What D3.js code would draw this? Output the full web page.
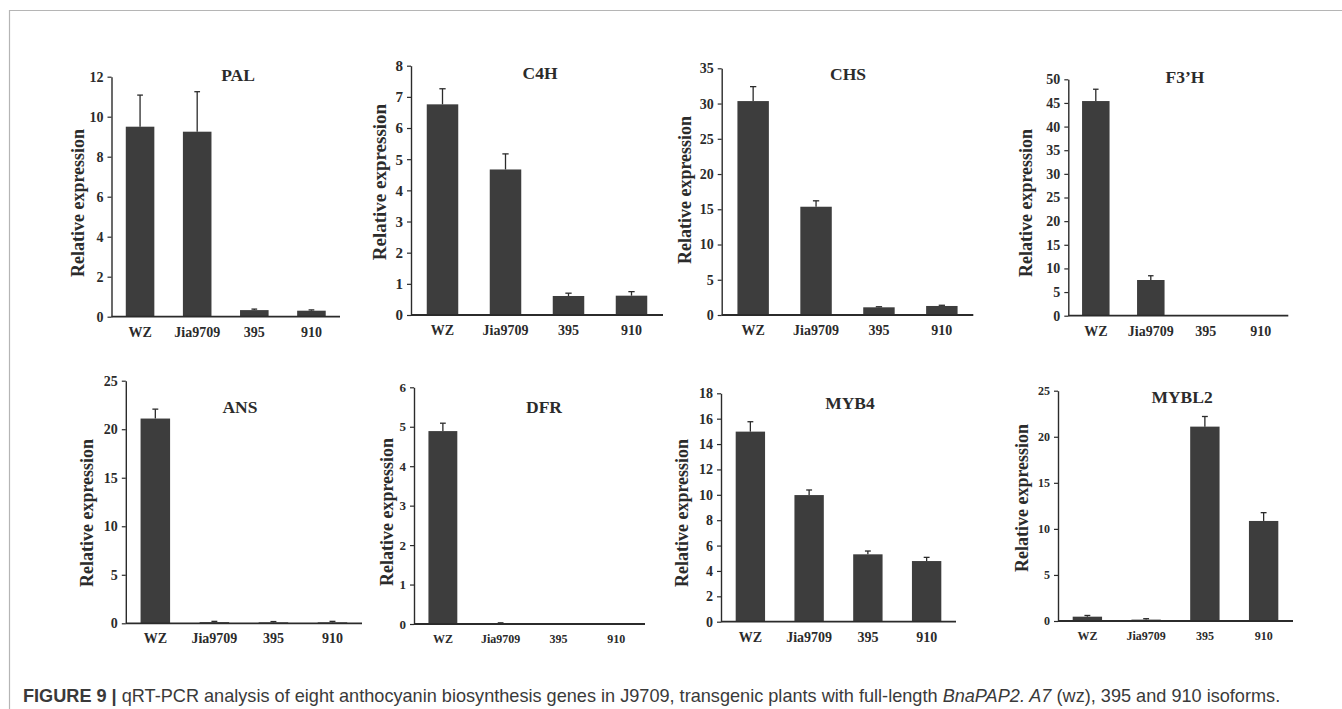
<!DOCTYPE html>
<html>
<head>
<meta charset="utf-8">
<script src="https://cdn.jsdelivr.net/npm/d3@7"></script>
<style>
  html, body { margin: 0; padding: 0; background: #fff; }
  svg { display: block; }
</style>
</head>
<body>
<svg id="chart" width="1342" height="709"></svg>
<script>
// ---------- data ----------
const categories = ["WZ", "Jia9709", "395", "910"];
const genes = ["PAL", "C4H", "CHS", "F3\u2019H", "ANS", "DFR", "MYB4", "MYBL2"];

const palValues   = [9.5, 9.25, 0.33, 0.30];
const palErrors   = [1.58, 2.0, 0.05, 0.04];
const c4hValues   = [6.76, 4.67, 0.61, 0.62];
const c4hErrors   = [0.50, 0.50, 0.09, 0.13];
const chsValues   = [30.35, 15.36, 1.09, 1.28];
const chsErrors   = [2.05, 0.84, 0.08, 0.10];
const f3hValues   = [45.4, 7.55, 0, 0];
const f3hErrors   = [2.5, 0.9, 0, 0];
const ansValues   = [21.1, 0.12, 0.10, 0.10];
const ansErrors   = [0.97, 0.08, 0.08, 0.10];
const dfrValues   = [4.89, 0.02, 0, 0];
const dfrErrors   = [0.20, 0.01, 0, 0];
const myb4Values  = [14.98, 9.98, 5.31, 4.78];
const myb4Errors  = [0.78, 0.40, 0.26, 0.29];
const mybl2Values = [0.47, 0.15, 21.1, 10.86];
const mybl2Errors = [0.13, 0.10, 1.10, 0.90];

const yMaxima = [12, 8, 35, 50, 25, 6, 18, 25];
const yTickSteps = [2, 1, 5, 5, 5, 1, 2, 5];

const yAxisTitle = "Relative expression";
const captionPieces = [
  {text: "FIGURE 9 |", weight: "bold", style: "normal"},
  {text: "qRT-PCR analysis of eight anthocyanin biosynthesis genes in J9709, transgenic plants with full-length", weight: "normal", style: "normal"},
  {text: "BnaPAP2. A7", weight: "normal", style: "italic"},
  {text: "(wz), 395 and 910 isoforms.", weight: "normal", style: "normal"}
];

const valueSets = [palValues, c4hValues, chsValues, f3hValues, ansValues, dfrValues, myb4Values, mybl2Values];
const errorSets = [palErrors, c4hErrors, chsErrors, f3hErrors, ansErrors, dfrErrors, myb4Errors, mybl2Errors];

// ---------- layout (pixel geometry per panel) ----------
const layout = [
  {x0: 111.5, x1: 340,   yTop: 76.7, y0: 316.7, tx: 238,  ty: 75,  lx: 78,    ly: 203, lfs: 18, xfs: 14, tfs: 14},
  {x0: 411,   x1: 663,   yTop: 65.7, y0: 315,   tx: 540,  ty: 73,  lx: 379,   ly: 182, lfs: 19, xfs: 14, tfs: 15},
  {x0: 721.7, x1: 973.3, yTop: 68.3, y0: 315,   tx: 848,  ty: 74,  lx: 685,   ly: 190, lfs: 18, xfs: 14, tfs: 14},
  {x0: 1068.3,x1: 1288.3,yTop: 79.3, y0: 315.7, tx: 1185, ty: 77,  lx: 1025.7,ly: 203, lfs: 18, xfs: 14, tfs: 14},
  {x0: 125.8, x1: 362,   yTop: 380.7,y0: 623.3, tx: 240,  ty: 407, lx: 86.7,  ly: 513, lfs: 18, xfs: 14, tfs: 14},
  {x0: 414,   x1: 645,   yTop: 387.3,y0: 624,   tx: 544,  ty: 407, lx: 387,   ly: 512, lfs: 18, xfs: 12, tfs: 13},
  {x0: 721,   x1: 956,   yTop: 393.3,y0: 621.7, tx: 850,  ty: 403, lx: 681.7, ly: 513, lfs: 18, xfs: 14, tfs: 14},
  {x0: 1058,  x1: 1293,  yTop: 390.7,y0: 621,   tx: 1182, ty: 397, lx: 1021.7,ly: 498, lfs: 18, xfs: 12, tfs: 12}
];

const svg = d3.select("#chart");
const serif = "'Liberation Serif', 'Times New Roman', serif";
const barColor = "#3d3d3d";
const inkColor = "#2b2b2b";

// frame lines
svg.append("line").attr("x1", 9).attr("x2", 1342).attr("y1", 10.5).attr("y2", 10.5)
  .attr("stroke", "#b5b5b5").attr("stroke-width", 1.2);
svg.append("line").attr("x1", 9.5).attr("x2", 9.5).attr("y1", 10).attr("y2", 709)
  .attr("stroke", "#b5b5b5").attr("stroke-width", 1.2);

genes.forEach((gene, i) => {
  const L = layout[i];
  const values = valueSets[i];
  const errors = errorSets[i];
  const data = categories.map((c, k) => ({cat: c, v: values[k], e: errors[k]}));

  const x = d3.scaleBand().domain(categories).range([L.x0, L.x1])
    .paddingInner(0.5).paddingOuter(0.25);
  const y = d3.scaleLinear().domain([0, yMaxima[i]]).range([L.y0, L.yTop]);

  const g = svg.append("g");

  // bars
  g.selectAll("rect.bar").data(data).enter().append("rect")
    .attr("class", "bar")
    .attr("x", d => x(d.cat))
    .attr("width", x.bandwidth())
    .attr("y", d => y(d.v))
    .attr("height", d => y(0) - y(d.v))
    .attr("fill", barColor);

  // error bars (upper only)
  const capW = Math.max(4, x.bandwidth() * 0.2);
  const eb = g.selectAll("g.err").data(data.filter(d => d.e > 0)).enter().append("g").attr("class", "err");
  eb.append("line")
    .attr("x1", d => x(d.cat) + x.bandwidth() / 2)
    .attr("x2", d => x(d.cat) + x.bandwidth() / 2)
    .attr("y1", d => y(d.v))
    .attr("y2", d => y(d.v + d.e))
    .attr("stroke", inkColor).attr("stroke-width", 1.3);
  eb.append("line")
    .attr("x1", d => x(d.cat) + x.bandwidth() / 2 - capW / 2)
    .attr("x2", d => x(d.cat) + x.bandwidth() / 2 + capW / 2)
    .attr("y1", d => y(d.v + d.e))
    .attr("y2", d => y(d.v + d.e))
    .attr("stroke", inkColor).attr("stroke-width", 1.3);

  // y axis
  const ticks = d3.range(0, yMaxima[i] + yTickSteps[i] / 2, yTickSteps[i]);
  const yAxis = g.append("g").attr("transform", `translate(${L.x0},0)`)
    .call(d3.axisLeft(y).tickValues(ticks).tickSize(4).tickSizeOuter(0).tickPadding(4).tickFormat(d3.format("d")));
  yAxis.select(".domain").attr("stroke", inkColor).attr("stroke-width", 1.4);
  yAxis.selectAll(".tick line").attr("stroke", inkColor).attr("stroke-width", 1.2);
  yAxis.selectAll(".tick text")
    .attr("font-family", serif).attr("font-weight", "bold").attr("font-size", L.tfs)
    .attr("fill", inkColor);

  // x axis
  const xAxis = g.append("g").attr("transform", `translate(0,${L.y0})`)
    .call(d3.axisBottom(x).tickSize(0).tickSizeOuter(0).tickPadding(10));
  xAxis.select(".domain").attr("stroke", inkColor).attr("stroke-width", 1.8)
    .attr("d", `M${L.x0},0H${L.x1}`);
  xAxis.selectAll(".tick text")
    .attr("font-family", serif).attr("font-weight", "bold").attr("font-size", L.xfs)
    .attr("fill", inkColor);

  // panel title
  g.append("text")
    .attr("x", L.tx).attr("y", L.ty)
    .attr("text-anchor", "middle").attr("dominant-baseline", "central")
    .attr("font-family", serif).attr("font-weight", "bold").attr("font-size", 17.5)
    .attr("fill", inkColor)
    .text(gene);

  // y axis title
  g.append("text")
    .attr("transform", `translate(${L.lx},${L.ly}) rotate(-90)`)
    .attr("text-anchor", "middle").attr("dominant-baseline", "central")
    .attr("font-family", serif).attr("font-weight", "bold").attr("font-size", L.lfs)
    .attr("fill", inkColor)
    .text(yAxisTitle);
});

// caption: separate text pieces laid out side by side, sized to span 23 -> 1281
const capStart = 23, capEnd = 1281, capBaseline = 702;
const capGroup = svg.append("g");
function layoutCaption(fs) {
  capGroup.selectAll("*").remove();
  const gap = fs * 0.28;
  let cx = capStart;
  captionPieces.forEach(p => {
    const t = capGroup.append("text")
      .attr("x", cx).attr("y", capBaseline)
      .attr("font-family", "'Liberation Sans', Arial, sans-serif")
      .attr("font-size", fs).attr("font-weight", p.weight).attr("font-style", p.style)
      .attr("fill", "#3a3a3a")
      .text(p.text);
    cx += t.node().getComputedTextLength() + gap;
  });
  return cx - gap - capStart;
}
const w0 = layoutCaption(18);
layoutCaption(18 * (capEnd - capStart) / w0);
</script>
</body>
</html>
